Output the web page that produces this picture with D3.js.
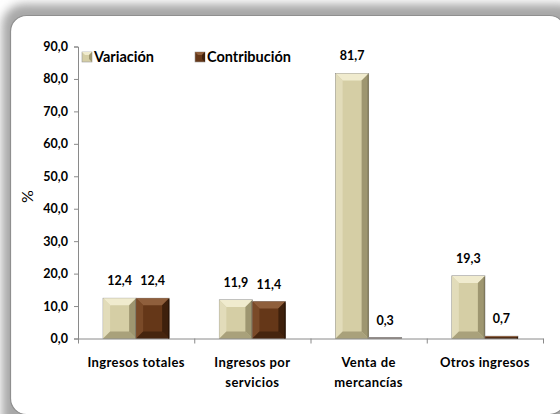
<!DOCTYPE html>
<html>
<head>
<meta charset="utf-8">
<script src="https://cdn.jsdelivr.net/npm/d3@7"></script>
<style>
  html, body { margin: 0; padding: 0; background: #fff; }
  svg { display: block; }
  text { font-family: Lato, "Open Sans", sans-serif; font-weight: bold; fill: #000; }
</style>
</head>
<body>
<svg id="chart" width="560" height="414"></svg>
<script>
// Revenue growth by component (%)
const categories = [["Ingresos totales"], ["Ingresos por", "servicios"], ["Venta de", "mercancías"], ["Otros ingresos"]];
const seriesNames = ["Variación", "Contribución"];
const variacion = [12.4, 11.9, 81.7, 19.3];
const contribucion = [12.4, 11.4, 0.3, 0.7];
const yTicks = [0, 10, 20, 30, 40, 50, 60, 70, 80, 90];

const svg = d3.select("#chart");
const W = 560, H = 414;
const margin = { left: 78, right: 17, top: 46.5, bottom: 75.5 };

const fmt = v => d3.format(".1f")(v).replace(".", ",");

// Panel with soft outer shadow
const defs = svg.append("defs");
defs.append("filter").attr("id", "panelShadow")
  .attr("x", "-10%").attr("y", "-10%").attr("width", "120%").attr("height", "120%")
  .append("feGaussianBlur").attr("stdDeviation", 5);

svg.append("rect")
  .attr("x", 2).attr("y", 4).attr("width", 580).attr("height", 440).attr("rx", 22)
  .attr("fill", "#a8a8a8").attr("filter", "url(#panelShadow)");
svg.append("rect")
  .attr("x", 10.5).attr("y", 15.5).attr("width", 555).attr("height", 399).attr("rx", 16)
  .attr("fill", "#fff").attr("stroke", "#8f8f8f").attr("stroke-width", 1.2);

// Scales
const labels = categories.map(c => c.join(" "));
const x0 = d3.scaleBand().domain(labels).range([margin.left, W - margin.right]).paddingInner(0).paddingOuter(0);
const x1 = d3.scaleBand().domain(seriesNames).range([0, x0.bandwidth()]).paddingInner(0).paddingOuter(0.76);
const y = d3.scaleLinear().domain([0, 90]).range([H - margin.bottom, margin.top]);

// Y axis
const yAxis = svg.append("g")
  .attr("transform", `translate(${margin.left},0)`)
  .call(d3.axisLeft(y).tickValues(yTicks).tickFormat(fmt).tickSize(4).tickPadding(6));
yAxis.select(".domain").attr("stroke", "#8a8a8a");
yAxis.selectAll(".tick line").attr("stroke", "#8a8a8a");
yAxis.selectAll(".tick text").style("font-size", "12.5px").style("font-family", "Lato, sans-serif").style("font-weight", "bold").attr("fill", "#000");

// X axis
const xAxis = svg.append("g")
  .attr("transform", `translate(0,${y(0)})`)
  .call(d3.axisBottom(x0).tickSize(0).tickFormat(""));
xAxis.select(".domain").attr("stroke", "#8a8a8a");
xAxis.selectAll(".tick").remove();
// category separators
const seps = labels.map(l => x0(l)).concat([x0.range()[1]]);
svg.append("g").selectAll("line").data(seps).join("line")
  .attr("x1", d => d + 0.5).attr("x2", d => d + 0.5)
  .attr("y1", y(0)).attr("y2", y(0) + 5)
  .attr("stroke", "#8a8a8a");

// category labels
const catG = svg.append("g").selectAll("text").data(categories).join("text")
  .attr("x", (d, i) => x0(labels[i]) + x0.bandwidth() / 2)
  .attr("y", y(0) + 28)
  .attr("text-anchor", "middle")
  .style("font-size", "13px")
  .style("letter-spacing", "0.4px");
catG.selectAll("tspan").data(d => d).join("tspan")
  .attr("x", function () { return d3.select(this.parentNode).attr("x"); })
  .attr("dy", (d, i) => i === 0 ? 0 : 20)
  .text(d => d);

// Axis title
svg.append("text")
  .attr("transform", `translate(33,${(y(0) + y(90)) / 2 + 4}) rotate(-90)`)
  .attr("text-anchor", "middle")
  .style("font-size", "16px").style("font-weight", "normal")
  .text("%");

// Bar palettes: face, highlight, shade
const palettes = {
  "Variación":    { face: "#d5cea5", light: "#f0ebce", mid: "#e2dcba", dark: "#9e9670", edge: "#7d775c" },
  "Contribución": { face: "#653718", light: "#8f5f3c", mid: "#7a4a28", dark: "#3e200c", edge: "#2c1708" }
};

const rows = labels.map((l, i) => [
  { cat: l, s: "Variación", v: variacion[i] },
  { cat: l, s: "Contribución", v: contribucion[i] }
]).flat();

function bevelBar(g, d) {
  const p = palettes[d.s];
  const x = x0(d.cat) + x1(d.s), w = x1.bandwidth();
  const yt = y(d.v), yb = y(0), h = yb - yt;
  const b = Math.min(7, h / 2, w / 2);
  const pts = a => a.map(q => q.join(",")).join(" ");
  // base outline
  g.append("rect").attr("x", x).attr("y", yt).attr("width", w).attr("height", h)
    .attr("fill", p.face).attr("stroke", "#8c8c8c").attr("stroke-width", 0.8);
  if (h < 2) return;
  // top bevel
  g.append("polygon").attr("points", pts([[x, yt], [x + w, yt], [x + w - b, yt + b], [x + b, yt + b]])).attr("fill", p.light);
  // left bevel
  g.append("polygon").attr("points", pts([[x, yt], [x + b, yt + b], [x + b, yb - b], [x, yb]])).attr("fill", p.mid);
  // right bevel
  g.append("polygon").attr("points", pts([[x + w, yt], [x + w, yb], [x + w - b, yb - b], [x + w - b, yt + b]])).attr("fill", p.dark);
  // bottom bevel
  g.append("polygon").attr("points", pts([[x, yb], [x + b, yb - b], [x + w - b, yb - b], [x + w, yb]])).attr("fill", p.dark).attr("opacity", 0.8);
  // right edge shadow line
  g.append("line").attr("x1", x + w - 0.5).attr("x2", x + w - 0.5).attr("y1", yt + 1).attr("y2", yb)
    .attr("stroke", p.edge).attr("stroke-width", 1.2);
}

const barsG = svg.append("g");
rows.forEach(d => bevelBar(barsG.append("g"), d));

// Value labels
svg.append("g").selectAll("text").data(rows).join("text")
  .attr("x", d => x0(d.cat) + x1(d.s) + x1.bandwidth() / 2)
  .attr("y", d => y(d.v) - 13)
  .attr("text-anchor", "middle")
  .style("font-size", "12.5px")
  .text(d => fmt(d.v));

// Legend
const legend = svg.append("g");
const legendX = [82, 195];
seriesNames.forEach((s, i) => {
  const p = palettes[s];
  const lg = legend.append("g").attr("transform", `translate(${legendX[i]},52)`);
  lg.append("rect").attr("width", 10).attr("height", 10).attr("fill", p.face).attr("stroke", "#999").attr("stroke-width", 0.6);
  lg.append("polygon").attr("points", "0,0 10,0 7,3 3,3").attr("fill", p.light);
  lg.append("polygon").attr("points", "10,0 10,10 7,7 7,3").attr("fill", p.dark);
  lg.append("text").attr("x", 12).attr("y", 10).style("font-size", "14.5px").text(s);
});
</script>
</body>
</html>
